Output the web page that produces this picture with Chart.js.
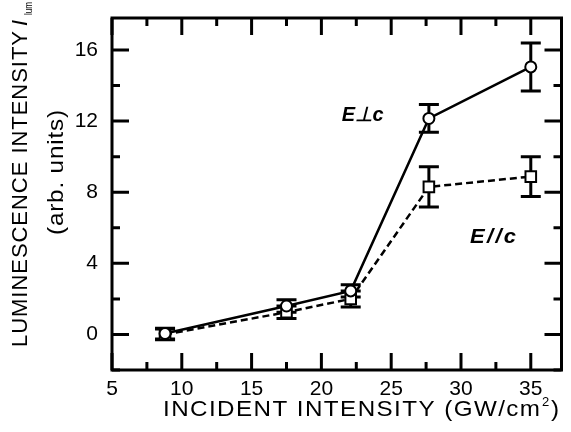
<!DOCTYPE html>
<html>
<head>
<meta charset="utf-8">
<script src="https://cdn.jsdelivr.net/npm/chart.js@4/dist/chart.umd.min.js"></script>
<style>
  html, body { margin: 0; padding: 0; background: #fff; }
  #wrap { width: 571px; height: 432px; }
</style>
</head>
<body>
<div id="wrap"><canvas id="c" width="571" height="432"></canvas></div>
<script>
// ---- data ----
const xValues = [8.8, 17.5, 22.1, 27.7, 35.0];
const perpValues = [0.05, 1.6, 2.45, 12.15, 15.05];
const perpErrors = [0.3, 0.35, 0.35, 0.78, 1.35];
const paraValues = [0.0, 1.25, 2.0, 8.3, 8.88];
const paraErrors = [0.3, 0.35, 0.45, 1.13, 1.12];
const xTickValues = [5, 10, 15, 20, 25, 30, 35];
const xMinorTickValues = [7.5, 12.5, 17.5, 22.5, 27.5, 32.5];
const yTickValues = [0, 4, 8, 12, 16];
const yMinorTickValues = [-2, 2, 6, 10, 14];
const perpLabel = 'E\u22A5c';
const paraLabel = 'E//c';
const xTitleMain = 'INCIDENT INTENSITY (GW/cm';
const xTitleSup = '2';
const xTitleEnd = ')';
const yTitleMain = 'LUMINESCENCE INTENSITY';
const yTitleSym = 'I';
const yTitleSub = 'lum';
const yTitleLine2 = '(arb. units)';

const FONT = '"Liberation Sans", Arial, Helvetica, sans-serif';

const pts = (ys) => xValues.map((x, i) => ({ x: x, y: ys[i] }));

// draw text char by char, slightly widened, so that it spans a target width
function drawFit(ctx, text, x, y, target, sx) {
  const chars = Array.from(text);
  const widths = chars.map(c => ctx.measureText(c).width * sx);
  const natural = widths.reduce((a, b) => a + b, 0);
  const sp = chars.length > 1 ? (target - natural) / (chars.length - 1) : 0;
  let cx = x;
  chars.forEach((c, i) => {
    ctx.save();
    ctx.translate(cx, y);
    ctx.scale(sx, 1);
    ctx.fillText(c, 0, 0);
    ctx.restore();
    cx += widths[i] + sp;
  });
}

const errorBarPlugin = {
  id: 'errorBars',
  beforeDatasetsDraw(chart) {
    const ctx = chart.ctx;
    const xs = chart.scales.x, ys = chart.scales.y;
    const sets = [[perpValues, perpErrors], [paraValues, paraErrors]];
    ctx.save();
    ctx.strokeStyle = '#000';
    ctx.lineWidth = 3;
    ctx.lineCap = 'butt';
    sets.forEach(([vals, errs]) => {
      vals.forEach((v, i) => {
        const px = xs.getPixelForValue(xValues[i]);
        const top = ys.getPixelForValue(v + errs[i]);
        const bot = ys.getPixelForValue(v - errs[i]);
        ctx.beginPath();
        ctx.moveTo(px, top); ctx.lineTo(px, bot);
        ctx.moveTo(px - 10, top); ctx.lineTo(px + 10, top);
        ctx.moveTo(px - 10, bot); ctx.lineTo(px + 10, bot);
        ctx.stroke();
      });
    });
    ctx.restore();
  }
};

const framePlugin = {
  id: 'frame',
  afterDraw(chart) {
    const ctx = chart.ctx;
    const a = chart.chartArea;
    const xs = chart.scales.x, ys = chart.scales.y;
    ctx.save();
    ctx.strokeStyle = '#000';
    ctx.lineWidth = 3;
    ctx.strokeRect(a.left, a.top, a.right - a.left, a.bottom - a.top);
    const MAJ = 17, MIN = 8;
    ctx.beginPath();
    const xt = (vals, len) => vals.forEach(v => {
      const p = xs.getPixelForValue(v);
      ctx.moveTo(p, a.bottom); ctx.lineTo(p, a.bottom - len);
      ctx.moveTo(p, a.top); ctx.lineTo(p, a.top + len);
    });
    const yt = (vals, len) => vals.forEach(v => {
      const p = ys.getPixelForValue(v);
      ctx.moveTo(a.left, p); ctx.lineTo(a.left + len, p);
      ctx.moveTo(a.right, p); ctx.lineTo(a.right - len, p);
    });
    xt(xTickValues, MAJ); xt(xMinorTickValues, MIN);
    yt(yTickValues, MAJ); yt(yMinorTickValues, MIN);
    ctx.stroke();

    // annotations
    ctx.fillStyle = '#000';
    ctx.textAlign = 'left';
    ctx.textBaseline = 'middle';
    ctx.font = 'bold italic 20px ' + FONT;
    drawFit(ctx, perpLabel, xs.getPixelForValue(21.45), ys.getPixelForValue(12.3), 42, 1.0);
    drawFit(ctx, paraLabel, xs.getPixelForValue(30.65), ys.getPixelForValue(5.45), 46, 1.1);

    // x title
    ctx.textBaseline = 'alphabetic';
    ctx.font = '22px ' + FONT;
    drawFit(ctx, xTitleMain, 163, 416, 377, 1.1);
    ctx.font = '13px ' + FONT;
    ctx.fillText(xTitleSup, 542, 406);
    ctx.font = '22px ' + FONT;
    drawFit(ctx, xTitleEnd, 551, 416, 8, 1.1);

    // y title
    ctx.save();
    ctx.translate(27, 347);
    ctx.rotate(-Math.PI / 2);
    ctx.font = '22px ' + FONT;
    drawFit(ctx, yTitleMain, 0, 0, 316, 1.0);
    ctx.font = 'italic 22px ' + FONT;
    ctx.fillText(yTitleSym, 321, 0);
    ctx.font = '10px ' + FONT;
    ctx.fillText(yTitleSub, 332, 5, 13);
    ctx.restore();

    ctx.save();
    ctx.translate(63, 235);
    ctx.rotate(-Math.PI / 2);
    ctx.font = '22px ' + FONT;
    drawFit(ctx, yTitleLine2, 0, 0, 125, 1.1);
    ctx.restore();

    ctx.restore();
  }
};

new Chart(document.getElementById('c'), {
  type: 'scatter',
  data: {
    datasets: [
      {
        label: perpLabel,
        data: pts(perpValues),
        showLine: true,
        borderColor: '#000',
        borderWidth: 2.5,
        pointStyle: 'circle',
        pointRadius: 5.5,
        pointBorderWidth: 2,
        pointBackgroundColor: '#fff',
        pointBorderColor: '#000',
        order: 1
      },
      {
        label: paraLabel,
        data: pts(paraValues),
        showLine: true,
        borderColor: '#000',
        borderWidth: 2.5,
        borderDash: [7, 4],
        pointStyle: 'rect',
        pointRadius: 7.5,
        pointBorderWidth: 2,
        pointBackgroundColor: '#fff',
        pointBorderColor: '#000',
        order: 2
      }
    ]
  },
  options: {
    responsive: false,
    animation: false,
    devicePixelRatio: 1,
    layout: { padding: { left: 0, right: 2, top: 18, bottom: 0 } },
    plugins: { legend: { display: false }, tooltip: { enabled: false } },
    scales: {
      x: {
        type: 'linear',
        min: 5, max: 37.2,
        afterBuildTicks: (s) => { s.ticks = xTickValues.map(v => ({ value: v })); },
        afterFit: (s) => { s.height = 62; s.paddingLeft = 0; s.paddingRight = 0; },
        grid: { display: false, drawTicks: false },
        border: { display: false },
        ticks: { color: '#000', font: { family: FONT, size: 21 }, padding: 7, maxRotation: 0, autoSkip: false }
      },
      y: {
        type: 'linear',
        min: -2, max: 17.8,
        afterBuildTicks: (s) => { s.ticks = yTickValues.map(v => ({ value: v })); },
        afterFit: (s) => { s.width = 112; s.paddingTop = 0; s.paddingBottom = 0; },
        grid: { display: false, drawTicks: false },
        border: { display: false },
        ticks: { color: '#000', font: { family: FONT, size: 21 }, padding: 14, autoSkip: false }
      }
    }
  },
  plugins: [errorBarPlugin, framePlugin]
});
</script>
</body>
</html>
